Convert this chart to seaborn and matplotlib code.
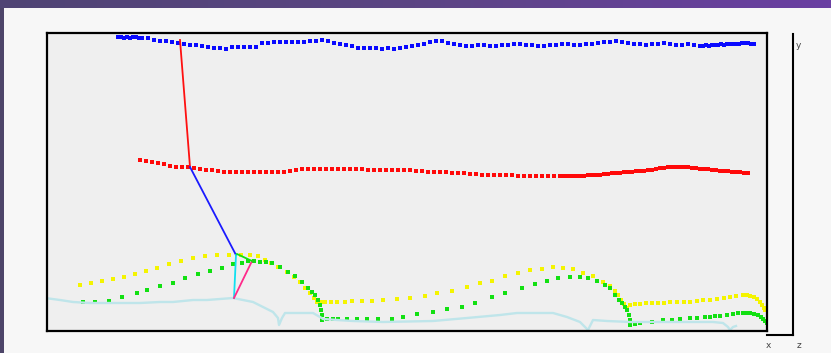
import numpy as np
import pandas as pd
import matplotlib
matplotlib.use("Agg")
import matplotlib.pyplot as plt
from matplotlib.lines import Line2D
import seaborn as sns

# ---- tracked marker series (x, height) ----
blue_x = [71, 74, 77, 80, 83, 86, 89, 92, 95, 101, 107, 113, 119, 125, 131, 137, 143, 149, 155, 161,
          167, 173, 179, 185, 191, 197, 203, 209, 215, 221, 227, 233, 239, 245, 251, 257, 263, 269, 275, 281,
          287, 293, 299, 305, 311, 317, 323, 329, 335, 341, 347, 353, 359, 365, 371, 377, 383, 389, 395, 401,
          407, 413, 419, 425, 431, 437, 443, 449, 455, 461, 467, 473, 479, 485, 491, 497, 503, 509, 515, 521,
          527, 533, 539, 545, 551, 557, 563, 569, 575, 581, 587, 593, 599, 605, 611, 617, 623, 629, 635, 641,
          647, 653, 656, 659, 662, 665, 668, 671, 674, 677, 680, 683, 686, 689, 692, 695, 698, 701, 704, 707]
blue_y = [294, 294, 293, 294, 293, 294, 294, 293, 293, 293, 291, 290, 290, 289, 288, 287, 286, 286, 285, 284,
          283, 283, 282, 284, 284, 284, 284, 284, 288, 288, 289, 289, 289, 289, 289, 289, 290, 290, 291, 290,
          288, 287, 286, 285, 283, 283, 283, 283, 282, 283, 282, 283, 284, 285, 286, 287, 289, 290, 290, 288,
          287, 286, 285, 285, 286, 286, 285, 285, 286, 286, 287, 287, 286, 286, 285, 285, 286, 286, 287, 287,
          286, 286, 287, 287, 288, 289, 289, 290, 289, 288, 287, 287, 286, 287, 287, 288, 287, 286, 286, 287,
          286, 285, 285, 286, 285, 286, 286, 286, 287, 286, 287, 287, 287, 287, 287, 288, 288, 288, 287, 287]

red_x = [93, 99, 105, 111, 117, 123, 129, 135, 141, 147, 153, 159, 165, 171, 177, 183, 189, 195, 201, 207,
         213, 219, 225, 231, 237, 243, 249, 255, 261, 267, 273, 279, 285, 291, 297, 303, 309, 315, 321, 327,
         333, 339, 345, 351, 357, 363, 369, 375, 381, 387, 393, 399, 405, 411, 417, 423, 429, 435, 441, 447,
         453, 459, 465, 471, 477, 483, 489, 495, 501, 507, 513, 517, 521, 525, 529, 533, 537, 541, 545, 549,
         553, 557, 561, 565, 569, 573, 577, 581, 585, 589, 593, 597, 601, 605, 609, 613, 617, 621, 625, 629,
         633, 637, 641, 645, 649, 653, 657, 661, 665, 669, 673, 677, 681, 685, 689, 693, 697, 701]
red_y = [171, 170, 169, 168, 167, 165, 164, 164, 164, 163, 162, 161, 161, 160, 159, 159, 159, 159, 159, 159,
         159, 159, 159, 159, 159, 160, 161, 162, 162, 162, 162, 162, 162, 162, 162, 162, 162, 162, 161, 161,
         161, 161, 161, 161, 161, 161, 160, 160, 159, 159, 159, 159, 158, 158, 158, 157, 157, 156, 156, 156,
         156, 156, 156, 155, 155, 155, 155, 155, 155, 155, 155, 155, 155, 155, 155, 155, 155, 156, 156, 156,
         156, 157, 157, 158, 158, 158, 159, 159, 159, 160, 160, 160, 161, 161, 162, 163, 163, 164, 164, 164,
         164, 164, 164, 163, 163, 162, 162, 162, 161, 161, 160, 160, 160, 159, 159, 159, 158, 158]

yellow_x = [33, 44, 55, 66, 77, 88, 99, 110, 122, 134, 146, 158, 170, 182, 194, 203, 211, 218, 224, 231,
            240, 247, 253, 258, 263, 267, 270, 274, 278, 284, 290, 298, 305, 315, 325, 336, 350, 363, 378, 390,
            405, 420, 433, 445, 458, 471, 483, 495, 506, 516, 526, 536, 546, 556, 563, 568, 571, 574, 577, 580,
            583, 588, 593, 599, 605, 611, 617, 623, 630, 637, 643, 650, 656, 663, 670, 677, 683, 689, 696, 700,
            703, 707, 710, 713, 715, 717, 718]
yellow_y = [46, 48, 50, 52, 54, 57, 60, 63, 67, 70, 73, 75, 76, 76, 76, 76, 75, 71, 68, 64,
            59, 54, 49, 43, 38, 33, 29, 29, 29, 29, 29, 29, 30, 30, 30, 31, 32, 33, 35, 38,
            40, 44, 48, 50, 55, 58, 61, 62, 64, 63, 62, 58, 55, 49, 45, 40, 36, 31, 27, 23,
            26, 27, 27, 28, 28, 28, 28, 29, 29, 29, 29, 30, 31, 31, 32, 33, 34, 35, 36, 36,
            35, 34, 32, 29, 26, 23, 21]

green_x = [36, 48, 62, 75, 90, 100, 113, 126, 138, 151, 163, 175, 186, 195, 201, 207, 213, 219, 225, 233,
           241, 248, 255, 261, 265, 268, 271, 273, 274, 275, 275, 280, 286, 291, 300, 310, 320, 331, 345, 356,
           370, 386, 400, 415, 428, 445, 458, 475, 488, 500, 511, 523, 533, 541, 550, 558, 563, 568, 572, 575,
           578, 580, 582, 583, 583, 588, 593, 605, 616, 625, 633, 643, 650, 658, 663, 668, 673, 680, 686, 691,
           696, 700, 703, 707, 711, 714, 716, 718, 720]
green_y = [29, 29, 30, 34, 38, 41, 45, 48, 53, 57, 60, 63, 67, 68, 70, 70, 69, 69, 68, 64,
           59, 55, 49, 43, 39, 36, 31, 26, 21, 16, 11, 12, 12, 12, 12, 12, 12, 12, 12, 14,
           17, 19, 22, 24, 28, 34, 38, 43, 47, 50, 53, 54, 54, 53, 50, 46, 43, 36, 31, 28,
           24, 21, 16, 11, 6, 7, 8, 9, 11, 11, 12, 13, 13, 14, 14, 15, 15, 16, 17, 18,
           18, 18, 18, 17, 16, 14, 12, 10, 8]

# ---- continuous floor trace ----
floor_x = [-2, 13, 26, 43, 60, 78, 93, 113, 126, 146, 160, 173, 186, 196, 206, 216, 226, 231, 232, 235,
           238, 253, 266, 273, 276, 290, 306, 336, 386, 420, 453, 470, 486, 506, 520, 533, 538, 541, 544, 546,
           560, 583, 600, 633, 666, 676, 681, 683, 686, 689]
floor_y = [33, 31, 29, 28, 28, 28, 28, 29, 29, 31, 31, 32, 33, 31, 29, 24, 19, 13, 6, 13,
           18, 18, 18, 14, 12, 11, 10, 9, 10, 13, 16, 18, 18, 18, 14, 9, 4, 1, 7, 11,
           10, 9, 9, 9, 9, 8, 4, 1, 4, 5]

# ---- linking segments (start, end) ----
link_names = ["red", "blue", "cyan", "pink", "green"]
link_x = [[133, 143], [143, 189], [189, 187], [187, 205], [190, 205]]
link_y = [[291, 164], [164, 76], [76, 33], [33, 70], [77, 70]]
link_colors = ["#ff1010", "#1a1aff", "#10e0f0", "#ff2a8a", "#10e010"]

fig = plt.figure(figsize=(8.31, 3.53), dpi=100, facecolor="#f7f7f7")
W, H = 831, 353

# window frame strips
band = fig.add_axes([0, 1 - 8 / H, 1, 8 / H])
grad = np.linspace(0, 1, 256)[None, :]
cmap = matplotlib.colors.LinearSegmentedColormap.from_list("frame", ["#4f4474", "#5c4684", "#6a3fa2"])
band.imshow(grad, aspect="auto", cmap=cmap, extent=[0, 1, 0, 1])
band.axis("off")
side = fig.add_axes([0, 0, 4 / W, 1 - 8 / H])
side.set_facecolor("#4d4569")
side.set_xticks([]); side.set_yticks([])
for s in side.spines.values():
    s.set_visible(False)

ax = fig.add_axes([47 / W, (H - 331) / H, 720 / W, 298 / H])
ax.set_facecolor("#efefef")

sns.lineplot(x=floor_x, y=floor_y, sort=False, estimator=None, color="#bfe5ea", lw=1.7, ax=ax)

for name, xs, ys, c in zip(link_names, link_x, link_y, link_colors):
    sns.lineplot(x=xs, y=ys, sort=False, estimator=None, color=c, lw=1.3, ax=ax)

series = [(blue_x, blue_y, "#0a0aff"), (red_x, red_y, "#ff0a0a"),
          (yellow_x, yellow_y, "#f4f400"), (green_x, green_y, "#12e012")]
for xs, ys, c in series:
    sns.scatterplot(x=xs, y=ys, marker="s", s=6.5, color=c, linewidth=0, ax=ax)

ax.set_xlim(0, 720)
ax.set_ylim(0, 298)
ax.set_xticks([]); ax.set_yticks([])
ax.set_xlabel(""); ax.set_ylabel("")
for s in ax.spines.values():
    s.set_color("black")
    s.set_linewidth(1.6)

# side axis of the projection
fig.add_artist(Line2D([793 / W, 793 / W], [1 - 34 / H, 1 - 335 / H], transform=fig.transFigure,
                      color="black", lw=1.5))
fig.add_artist(Line2D([767 / W, 793 / W], [1 - 335 / H, 1 - 335 / H], transform=fig.transFigure,
                      color="black", lw=1.5))
fig.text(796 / W, 1 - 45 / H, "y", fontsize=6.5, color="#444444", va="center", ha="left")
fig.text(768 / W, 1 - 345 / H, "x", fontsize=6.5, color="#444444", va="center", ha="center")
fig.text(799 / W, 1 - 345 / H, "z", fontsize=6.5, color="#444444", va="center", ha="center")

fig.savefig("out.png", dpi=100, facecolor=fig.get_facecolor())
